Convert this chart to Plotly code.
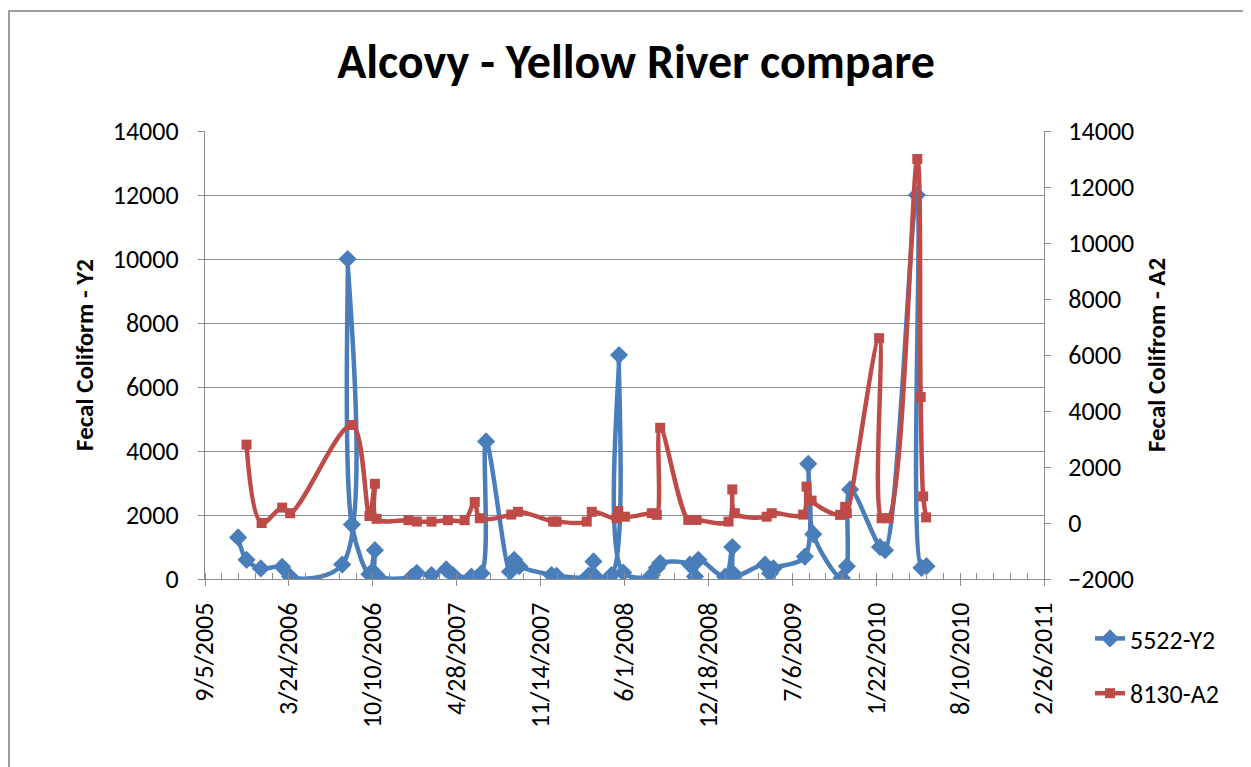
import plotly.graph_objects as go

# ---- data ----
y2_dates = ["2005-11-23", "2005-12-13", "2006-01-16", "2006-03-08", "2006-03-27", "2006-07-29",
            "2006-08-11", "2006-08-21", "2006-10-02", "2006-10-15", "2006-10-19", "2007-01-11",
            "2007-01-23", "2007-02-27", "2007-04-03", "2007-04-19", "2007-06-02", "2007-06-26",
            "2007-07-07", "2007-09-02", "2007-09-12", "2007-09-24", "2007-12-10", "2007-12-22",
            "2008-03-07", "2008-03-19", "2008-03-23", "2008-05-01", "2008-05-19", "2008-05-29",
            "2008-08-05", "2008-08-17", "2008-08-25", "2008-11-04", "2008-11-16", "2008-11-24",
            "2009-01-27", "2009-02-13", "2009-02-19", "2009-05-02", "2009-05-14", "2009-05-22",
            "2009-08-05", "2009-08-13", "2009-08-25", "2009-11-01", "2009-11-13", "2009-11-21",
            "2010-01-31", "2010-02-12", "2010-04-29", "2010-05-10", "2010-05-22"]
y2_values = [1300, 600, 330, 380, 70, 450,
             10000, 1700, 150, 900, 120, 70,
             190, 125, 300, 125, 73, 177,
             4300, 230, 600, 400, 125, 100,
             100, 550, 80, 125, 7000, 200,
             120, 350, 500, 450, 80, 600,
             73, 1000, 125, 450, 177, 330,
             700, 3600, 1400, 30, 400, 2800,
             1000, 900, 12000, 350, 400]

a2_dates = ["2005-12-13", "2006-01-18", "2006-03-08", "2006-03-27", "2006-08-21", "2006-10-02",
            "2006-10-15", "2006-10-19", "2007-01-03", "2007-01-23", "2007-02-27", "2007-04-07",
            "2007-05-17", "2007-06-10", "2007-06-22", "2007-09-05", "2007-09-21", "2007-12-14",
            "2007-12-22", "2008-03-03", "2008-03-15", "2008-05-13", "2008-05-17", "2008-06-02",
            "2008-08-05", "2008-08-17", "2008-08-25", "2008-10-31", "2008-11-20", "2009-02-04",
            "2009-02-13", "2009-02-19", "2009-05-06", "2009-05-18", "2009-08-01", "2009-08-09",
            "2009-08-21", "2009-10-28", "2009-11-09", "2009-11-13", "2010-01-29", "2010-02-04",
            "2010-02-20", "2010-04-30", "2010-05-08", "2010-05-14", "2010-05-21"]
a2_values = [2800, 0, 550, 350, 3500, 250,
             1400, 150, 100, 50, 50, 100,
             100, 750, 170, 300, 400, 50,
             50, 50, 400, 170, 430, 225,
             350, 290, 3400, 110, 110, 50,
             1200, 350, 225, 350, 300, 1300,
             800, 290, 580, 350, 6600, 170,
             170, 13000, 4500, 950, 200]

series_names = ["5522-Y2", "8130-A2"]
title_text = "Alcovy - Yellow River compare"
left_title = "Fecal Coliform - Y2"
right_title = "Fecal Colifrom - A2"

BLUE = "#4A7EBB"
RED = "#BE4B48"
GRID = "#8C8C8C"
FONT = "Carlito, Lato, sans-serif"
DAY_MS = 86400000

# page body has an 8px margin, so the figure is sized/shifted to compensate
W, H = 1243, 759
L, T, R, B = 197, 123, 207, 188
PW = W - L - R
PH = H - T - B

fig = go.Figure()
fig.add_trace(go.Scatter(
    x=y2_dates, y=y2_values, name=series_names[0], mode="lines+markers",
    line=dict(color=BLUE, width=4.5, shape="spline", smoothing=1),
    marker=dict(symbol="diamond", size=14, color=BLUE),
    yaxis="y", legendgroup="a"))
fig.add_trace(go.Scatter(
    x=a2_dates, y=a2_values, name=series_names[1], mode="lines+markers",
    line=dict(color=RED, width=4.5, shape="spline", smoothing=1),
    marker=dict(symbol="square", size=10, color=RED),
    yaxis="y2", legendgroup="b"))

fig.update_layout(
    width=W, height=H,
    margin=dict(l=L, r=R, t=T, b=B, autoexpand=False),
    paper_bgcolor="white", plot_bgcolor="white",
    font=dict(family=FONT, color="black", size=26),
    title=dict(text="<b>" + title_text + "</b>", x=(636 - 8) / W, xanchor="center",
               y=1 - 53 / H, yanchor="middle",
               font=dict(family=FONT, size=48, color="black")),
    showlegend=True,
    legend=dict(x=(1090 - 8 - L) / PW, xanchor="left", y=(571 - 607) / PH, yanchor="top",
                font=dict(family=FONT, size=26), tracegroupgap=18,
                bgcolor="rgba(0,0,0,0)"),
    xaxis=dict(
        type="date", range=["2005-09-05", "2011-02-26"],
        tick0="2005-09-05", dtick=200 * DAY_MS, tickformat="%-m/%-d/%Y",
        tickangle=-90, ticks="outside", ticklen=6, tickcolor=GRID, tickwidth=1.3,
        minor=dict(tick0="2005-09-05", dtick=40 * DAY_MS, ticks="inside",
                   ticklen=6, tickcolor=GRID, tickwidth=1.3, showgrid=False),
        showgrid=False, showline=True, linecolor=GRID, linewidth=1.3,
        zeroline=False, tickfont=dict(family=FONT, size=26),
        ticklabelstandoff=6),
    yaxis=dict(
        range=[0, 14000], dtick=2000, tickformat="d",
        showgrid=True, gridcolor=GRID, gridwidth=1.3,
        zeroline=False, showline=True, linecolor=GRID, linewidth=1.3,
        ticks="outside", ticklen=6, tickcolor=GRID, tickwidth=1.3,
        tickfont=dict(family=FONT, size=26), ticklabelstandoff=14,
        title=dict(text="<b>" + left_title + "</b>", standoff=12,
                   font=dict(family=FONT, size=25))),
    yaxis2=dict(
        range=[-2000, 14000], dtick=2000, tickformat="d", overlaying="y", side="right",
        showgrid=False, zeroline=False, showline=True, linecolor=GRID, linewidth=1.3,
        ticks="outside", ticklen=6, tickcolor=GRID, tickwidth=1.3,
        tickfont=dict(family=FONT, size=26), ticklabelstandoff=12,
        title=dict(text="<b>" + right_title + "</b>", standoff=14,
                   font=dict(family=FONT, size=25))),
)

# outer chart-area border
fig.add_shape(type="rect", xref="paper", yref="paper",
              x0=(1 - L) / PW, x1=1.5, y0=-2, y1=(571 - 3) / PH,
              line=dict(color="#7F7F7F", width=1.5), fillcolor="rgba(0,0,0,0)",
              layer="below")

fig.write_html("out.html")
